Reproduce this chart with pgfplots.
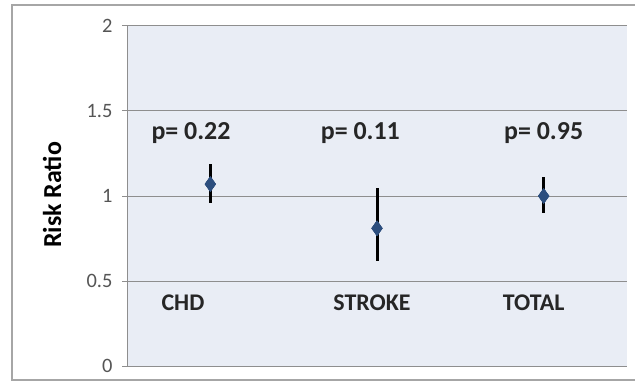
\documentclass[border=0pt]{standalone}
\usepackage{pgfplots}
\usepackage{pgfplotstable}
\pgfplotsset{compat=1.18}
\usepackage{fontspec}
\setmainfont{Carlito}
\definecolor{plotbg}{HTML}{E9EDF5}
\definecolor{gridgray}{HTML}{8E8E8E}
\definecolor{framegray}{HTML}{A6A6A6}
\definecolor{tickgray}{HTML}{555555}
\definecolor{markblue}{HTML}{2C4E7E}

% risk ratio with 95% confidence limits: x, estimate, lower, upper
\pgfplotstableread{
x   rr    lo    hi
0.5 1.07  0.96  1.19
1.5 0.81  0.62  1.05
2.5 1.00  0.90  1.11
}\rrdata

\begin{document}
\begin{tikzpicture}[x=1bp,y=1bp]
\path[use as bounding box] (0,0) rectangle (635,381);
\begin{scope}
\clip (0,0) rectangle (635,381);
\draw[framegray, line width=2bp] (12,1) rectangle (645,376);
\end{scope}
\begin{axis}[
  at={(127bp,15bp)}, anchor=south west,
  scale only axis, width=500bp, height=340bp,
  xmin=0, xmax=3, ymin=0, ymax=2,
  axis background/.style={fill=plotbg},
  axis x line=none,
  axis y line*=left,
  y axis line style={gridgray, line width=1bp, -},
  ytick={0,0.5,1,1.5,2},
  yticklabels={0,0.5,1,1.5,2},
  tick align=outside, major tick length=5bp,
  ytick style={gridgray, line width=1bp},
  ymajorgrids, grid style={gridgray, line width=1bp},
  yticklabel style={font=\fontsize{20.5}{20.5}\selectfont, text=tickgray, xshift=-6bp},
  /pgf/number format/assume math mode=true,
  ylabel={\textbf{Risk Ratio}},
  ylabel style={font=\fontsize{26}{26}\selectfont, at={(rel axis cs:-0.15,0.503)}, anchor=center},
  clip=false,
]
\addplot[only marks, mark=diamond*, mark size=7.5bp,
  mark options={fill=markblue, draw=markblue, xscale=0.95},
  error bars/.cd, y dir=both, y explicit, error mark=none,
  error bar style={black, line width=3bp}]
  table[x=x, y=rr, y error minus expr=\thisrow{rr}-\thisrow{lo},
        y error plus expr=\thisrow{hi}-\thisrow{rr}] {\rrdata};
\addplot[only marks, mark=diamond*, mark size=7.5bp,
  mark options={fill=markblue, draw=markblue, xscale=0.95}]
  table[x=x, y=rr] {\rrdata};
\begin{scope}[font=\fontsize{26}{26}\selectfont\bfseries, text=black!85]
\node at (axis cs:0.384,1.37) {p= 0.22};
\node at (axis cs:1.40,1.37) {p= 0.11};
\node at (axis cs:2.50,1.37) {p= 0.95};
\end{scope}
\begin{scope}[font=\fontsize{24}{24}\selectfont\bfseries, text=black!85]
\node at (axis cs:0.336,0.37) {CHD};
\node at (axis cs:1.47,0.37) {STROKE};
\node at (axis cs:2.44,0.37) {TOTAL};
\end{scope}
\end{axis}
\end{tikzpicture}
\end{document}
